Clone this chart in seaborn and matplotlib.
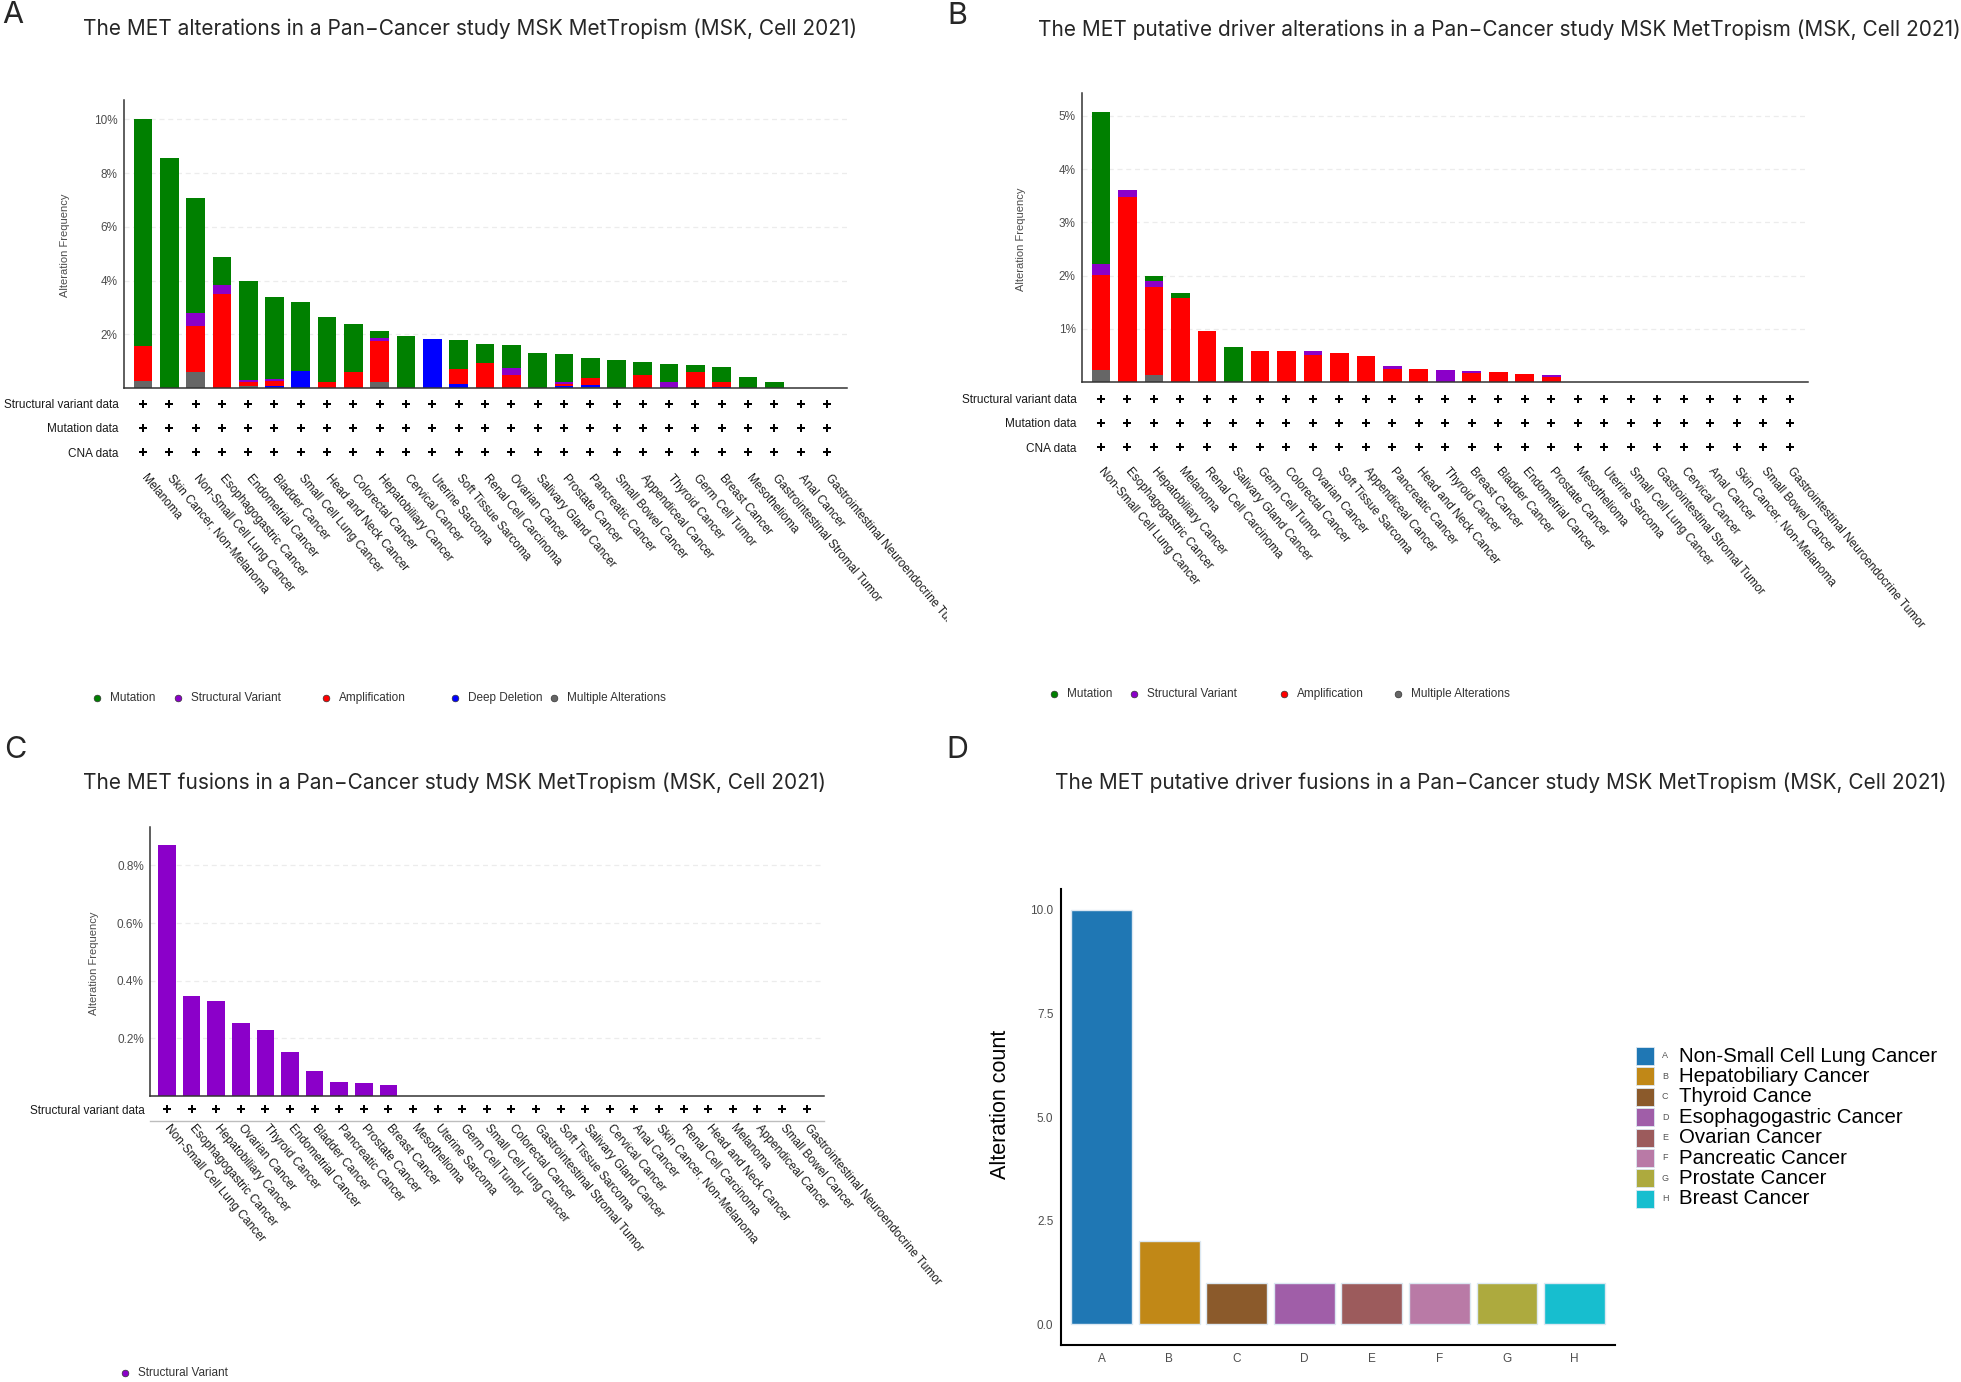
import numpy as np
import pandas as pd
import matplotlib
matplotlib.use("Agg")
import matplotlib.pyplot as plt
from matplotlib.lines import Line2D
from matplotlib.patches import Rectangle
from matplotlib.transforms import Bbox, TransformedBbox
import seaborn as sns

# ---------------- data ----------------
# alteration types, bottom -> top of each stacked bar
alt_types = ["Multiple Alterations", "Deep Deletion", "Amplification", "Structural Variant", "Mutation"]
alt_colors = ["#666666", "#0000FF", "#FF0000", "#8B00C9", "#008000"]

# Panel A: MET alterations (%)
a_cats = ["Melanoma", "Skin Cancer, Non-Melanoma", "Non-Small Cell Lung Cancer", "Esophagogastric Cancer",
          "Endometrial Cancer", "Bladder Cancer", "Small Cell Lung Cancer", "Head and Neck Cancer",
          "Colorectal Cancer", "Hepatobiliary Cancer", "Cervical Cancer", "Uterine Sarcoma",
          "Soft Tissue Sarcoma", "Renal Cell Carcinoma", "Ovarian Cancer", "Salivary Gland Cancer",
          "Prostate Cancer", "Pancreatic Cancer", "Small Bowel Cancer", "Appendiceal Cancer",
          "Thyroid Cancer", "Germ Cell Tumor", "Breast Cancer", "Mesothelioma",
          "Gastrointestinal Stromal Tumor", "Anal Cancer", "Gastrointestinal Neuroendocrine Tumor"]
a_multiple = [0.25, 0, 0.58, 0, 0.07, 0, 0, 0, 0, 0.21, 0, 0, 0, 0, 0, 0, 0, 0.05, 0, 0, 0, 0, 0, 0, 0, 0, 0]
a_deldel = [0, 0, 0, 0, 0, 0.07, 0.62, 0, 0, 0, 0, 1.84, 0.16, 0, 0, 0, 0.07, 0.05, 0, 0, 0, 0, 0.05, 0, 0, 0, 0]
a_amp = [1.30, 0, 1.73, 3.49, 0.14, 0.19, 0, 0.22, 0.60, 1.54, 0, 0, 0.56, 0.94, 0.50, 0, 0.07, 0.26, 0, 0.50,
         0, 0.60, 0.16, 0, 0, 0, 0]
a_sv = [0, 0, 0.48, 0.36, 0.08, 0.07, 0, 0, 0, 0.12, 0, 0, 0, 0, 0.24, 0, 0.07, 0, 0, 0, 0.22, 0, 0, 0, 0, 0, 0]
a_mut = [8.45, 8.55, 4.28, 1.03, 3.68, 3.06, 2.57, 2.44, 1.79, 0.24, 1.94, 0, 1.07, 0.71, 0.85, 1.30, 1.06,
         0.77, 1.04, 0.47, 0.69, 0.27, 0.58, 0.40, 0.22, 0, 0]

# Panel B: MET putative driver alterations (%)
b_cats = ["Non-Small Cell Lung Cancer", "Esophagogastric Cancer", "Hepatobiliary Cancer", "Melanoma",
          "Renal Cell Carcinoma", "Salivary Gland Cancer", "Germ Cell Tumor", "Colorectal Cancer",
          "Ovarian Cancer", "Soft Tissue Sarcoma", "Appendiceal Cancer", "Pancreatic Cancer",
          "Head and Neck Cancer", "Thyroid Cancer", "Breast Cancer", "Bladder Cancer", "Endometrial Cancer",
          "Prostate Cancer", "Mesothelioma", "Uterine Sarcoma", "Small Cell Lung Cancer",
          "Gastrointestinal Stromal Tumor", "Cervical Cancer", "Anal Cancer", "Skin Cancer, Non-Melanoma",
          "Small Bowel Cancer", "Gastrointestinal Neuroendocrine Tumor"]
b_multiple = [0.23, 0, 0.125, 0, 0, 0, 0, 0, 0, 0, 0, 0, 0, 0, 0, 0, 0, 0, 0, 0, 0, 0, 0, 0, 0, 0, 0]
b_deldel = [0] * 27
b_amp = [1.78, 3.48, 1.655, 1.575, 0.95, 0, 0.59, 0.59, 0.51, 0.54, 0.49, 0.25, 0.24, 0, 0.16, 0.18, 0.15,
         0.09, 0, 0, 0, 0, 0, 0, 0, 0, 0]
b_sv = [0.21, 0.12, 0.11, 0, 0, 0, 0, 0, 0.08, 0, 0, 0.05, 0, 0.23, 0.04, 0, 0, 0.04, 0, 0, 0, 0, 0, 0, 0, 0, 0]
b_mut = [2.85, 0, 0.11, 0.095, 0, 0.66, 0, 0, 0, 0, 0, 0, 0, 0, 0, 0, 0, 0, 0, 0, 0, 0, 0, 0, 0, 0, 0]

# Panel C: MET fusions (%)
c_cats = ["Non-Small Cell Lung Cancer", "Esophagogastric Cancer", "Hepatobiliary Cancer", "Ovarian Cancer",
          "Thyroid Cancer", "Endometrial Cancer", "Bladder Cancer", "Pancreatic Cancer", "Prostate Cancer",
          "Breast Cancer", "Mesothelioma", "Uterine Sarcoma", "Germ Cell Tumor", "Small Cell Lung Cancer",
          "Colorectal Cancer", "Gastrointestinal Stromal Tumor", "Soft Tissue Sarcoma", "Salivary Gland Cancer",
          "Cervical Cancer", "Anal Cancer", "Skin Cancer, Non-Melanoma", "Renal Cell Carcinoma",
          "Head and Neck Cancer", "Melanoma", "Appendiceal Cancer", "Small Bowel Cancer",
          "Gastrointestinal Neuroendocrine Tumor"]
c_sv = [0.871, 0.346, 0.331, 0.254, 0.228, 0.151, 0.087, 0.050, 0.044, 0.038] + [0] * 17

# Panel D: putative driver fusions (counts)
d_letters = ["A", "B", "C", "D", "E", "F", "G", "H"]
d_names = ["Non-Small Cell Lung Cancer", "Hepatobiliary Cancer", "Thyroid Cance", "Esophagogastric Cancer",
           "Ovarian Cancer", "Pancreatic Cancer", "Prostate Cancer", "Breast Cancer"]
d_counts = [10, 2, 1, 1, 1, 1, 1, 1]
d_colors = ["#1F77B4", "#C18817", "#8B5A2B", "#A05EA8", "#9C5B5C", "#B97AA6", "#ADAA3E", "#17BECF"]

rows_abc = ["Structural variant data", "Mutation data", "CNA data"]
titles = ["The MET alterations in a Pan\u2212Cancer study MSK MetTropism (MSK, Cell 2021)",
          "The MET putative driver alterations in a Pan\u2212Cancer study MSK MetTropism (MSK, Cell 2021)",
          "The MET fusions in a Pan\u2212Cancer study MSK MetTropism (MSK, Cell 2021)",
          "The MET putative driver fusions in a Pan\u2212Cancer study MSK MetTropism (MSK, Cell 2021)"]

# ---------------- style ----------------
sns.set_theme(style="white")
plt.rcParams['font.family'] = ['Liberation Sans', 'DejaVu Sans']
TITLE_FONT = ['Inter', 'DejaVu Sans']
GREY = "#4d4d4d"

W, H = 1961, 1382
fig = plt.figure(figsize=(W / 100, H / 100), dpi=100)


def rect(l, t, r, b):
    return [l / W, 1 - b / H, (r - l) / W, (b - t) / H]


def fx(x):
    return x / W


def fy(y):
    return 1 - y / H


def stacked_bars(ax, cats, segments, colors, width):
    # overlay cumulative sums, tallest first, so they look stacked
    cum = np.cumsum(np.vstack(segments), axis=0)
    for lvl in range(len(segments) - 1, -1, -1):
        sns.barplot(x=cats, y=cum[lvl], order=cats, color=colors[lvl], saturation=1,
                    width=width, linewidth=0, errorbar=None, ax=ax)


def style_bar_axes(ax, xlim, ylim, ticks, labels):
    ax.set_xlim(*xlim)
    ax.set_ylim(*ylim)
    ax.set_xticks([])
    ax.set_xlabel("")
    ax.set_yticks(ticks)
    ax.set_yticklabels(labels)
    ax.tick_params(axis='y', length=2.5, width=0.8, color="#333333", pad=2, labelsize=8.5, labelcolor=GREY)
    for s in ["top", "right"]:
        ax.spines[s].set_visible(False)
    for s in ["left", "bottom"]:
        ax.spines[s].set_color("#333333")
        ax.spines[s].set_linewidth(1.1)
    ax.yaxis.grid(True, color="#ececec", linestyle=(0, (4, 3)), linewidth=0.9)
    ax.set_axisbelow(True)


def data_rows(ax, cats, rows, xlim, pad, angle=-50, clip_right=None):
    n = len(cats)
    df = pd.DataFrame({"pos": np.tile(np.arange(n), len(rows)),
                       "row": np.repeat(np.arange(len(rows)), n)})
    sns.scatterplot(data=df, x="pos", y="row", marker="P", s=34, color="black", linewidth=0,
                    legend=False, ax=ax)
    ax.set_xlim(*xlim)
    ax.set_ylim(len(rows) - 0.5, -0.5)
    ax.set_xlabel("")
    ax.set_ylabel("")
    ax.set_yticks(range(len(rows)))
    ax.set_yticklabels(rows)
    ax.set_xticks(range(n))
    ax.set_xticklabels(cats, rotation=angle, ha="left", va="center", rotation_mode="anchor")
    ax.tick_params(axis="y", length=0, pad=4, labelsize=8.5, labelcolor="#1a1a1a")
    ax.tick_params(axis="x", length=0, pad=pad, labelsize=8.5, labelcolor="#1a1a1a")
    for s in ax.spines.values():
        s.set_visible(False)
    ax.set_facecolor("none")
    if clip_right is not None:
        box = TransformedBbox(Bbox.from_extents(0, 0, fx(clip_right), 1), fig.transFigure)
        for lab in ax.get_xticklabels():
            lab.set_clip_on(True)
            lab.set_clip_box(box)


def dot_legend(items, y):
    for label, color, xd in items:
        fig.add_artist(Line2D([fx(xd)], [fy(y)], marker="o", markersize=4.8, markerfacecolor=color,
                              markeredgecolor="#333333", markeredgewidth=0.5, linestyle="none",
                              transform=fig.transFigure))
        fig.text(fx(xd + 13), fy(y), label, ha="left", va="center", fontsize=8.5, color="#333333")


# ---------------- Panel A ----------------
ax_a = fig.add_axes(rect(124, 100, 847, 388))
stacked_bars(ax_a, a_cats, [a_multiple, a_deldel, a_amp, a_sv, a_mut], alt_colors, 0.71)
style_bar_axes(ax_a, (-0.72, 26.76), (0, 10.72), [2, 4, 6, 8, 10], ["2%", "4%", "6%", "8%", "10%"])
ax_a.set_ylabel("Alteration Frequency", fontsize=8, color=GREY)
ax_a.yaxis.set_label_coords(fx(70), fy(245), transform=fig.transFigure)
ax_ar = fig.add_axes(rect(124, 392, 847, 464))
data_rows(ax_ar, a_cats, rows_abc, (-0.72, 26.76), pad=8.5, clip_right=947)
dot_legend([(alt_types[4], alt_colors[4], 97), (alt_types[3], alt_colors[3], 178),
            (alt_types[2], alt_colors[2], 326), (alt_types[1], alt_colors[1], 455),
            (alt_types[0], alt_colors[0], 554)], 698)

# ---------------- Panel B ----------------
ax_b = fig.add_axes(rect(1082, 93, 1808, 382))
stacked_bars(ax_b, b_cats, [b_multiple, b_deldel, b_amp, b_sv, b_mut], alt_colors, 0.70)
style_bar_axes(ax_b, (-0.71, 26.69), (0, 5.43), [1, 2, 3, 4, 5], ["1%", "2%", "3%", "4%", "5%"])
ax_b.set_ylabel("Alteration Frequency", fontsize=8, color=GREY)
ax_b.yaxis.set_label_coords(fx(1026), fy(239), transform=fig.transFigure)
ax_br = fig.add_axes(rect(1082, 387, 1808, 459))
data_rows(ax_br, b_cats, rows_abc, (-0.71, 26.69), pad=7)
dot_legend([(alt_types[4], alt_colors[4], 1054), (alt_types[3], alt_colors[3], 1134),
            (alt_types[2], alt_colors[2], 1284), (alt_types[0], alt_colors[0], 1398)], 694)

# ---------------- Panel C ----------------
ax_c = fig.add_axes(rect(150, 827, 824, 1096))
sns.barplot(x=c_cats, y=c_sv, order=c_cats, color=alt_colors[3], saturation=1, width=0.72,
            linewidth=0, errorbar=None, ax=ax_c)
style_bar_axes(ax_c, (-0.69, 26.71), (0, 0.933), [0.2, 0.4, 0.6, 0.8], ["0.2%", "0.4%", "0.6%", "0.8%"])
ax_c.set_ylabel("Alteration Frequency", fontsize=8, color=GREY)
ax_c.yaxis.set_label_coords(fx(99), fy(963), transform=fig.transFigure)
ax_cr = fig.add_axes(rect(150, 1097, 824, 1121))
data_rows(ax_cr, c_cats, rows_abc[:1], (-0.69, 26.71), pad=4)
ax_cr.spines["bottom"].set_visible(True)
ax_cr.spines["bottom"].set_color("#bdbdbd")
ax_cr.spines["bottom"].set_linewidth(1)
dot_legend([(alt_types[3], alt_colors[3], 125)], 1373)

# ---------------- Panel D ----------------
ax_d = fig.add_axes(rect(1061, 889, 1615, 1345))
sns.barplot(x=d_letters, y=d_counts, hue=d_letters, palette=d_colors, legend=False, saturation=1,
            width=0.9, edgecolor="#dce8f2", linewidth=1.0, errorbar=None, ax=ax_d)
ax_d.set_xlim(-0.6, 7.6)
ax_d.set_ylim(-0.5, 10.5)
ax_d.set_yticks([0, 2.5, 5, 7.5, 10])
ax_d.set_yticklabels(["0.0", "2.5", "5.0", "7.5", "10.0"])
ax_d.set_xlabel("")
ax_d.set_ylabel("Alteration count", fontsize=15.5, color="black")
ax_d.yaxis.set_label_coords(fx(1011), fy(1104), transform=fig.transFigure)
ax_d.tick_params(axis="both", length=3.5, width=1, color="#333333", pad=2, labelsize=8.5, labelcolor=GREY)
for s in ["top", "right"]:
    ax_d.spines[s].set_visible(False)
for s in ["left", "bottom"]:
    ax_d.spines[s].set_color("black")
    ax_d.spines[s].set_linewidth(1.5)

# legend for D
for i, (let, name, col) in enumerate(zip(d_letters, d_names, d_colors)):
    yc = 1056 + i * 20.4
    fig.add_artist(Rectangle((fx(1636), fy(yc + 9)), 18 / W, 18 / H, facecolor=col,
                             edgecolor="#dce8f2", linewidth=0.6, transform=fig.transFigure))
    fig.text(fx(1662), fy(yc), let, ha="left", va="center", fontsize=6.5, color="#555555")
    fig.text(fx(1679), fy(yc), name, ha="left", va="center", fontsize=14.7, color="black")

# ---------------- titles and panel letters ----------------
fig.text(fx(83), fy(29), titles[0], ha="left", va="center", fontsize=15, family=TITLE_FONT)
fig.text(fx(1038), fy(30), titles[1], ha="left", va="center", fontsize=15, family=TITLE_FONT)
fig.text(fx(83), fy(783), titles[2], ha="left", va="center", fontsize=15, family=TITLE_FONT)
fig.text(fx(1055), fy(783), titles[3], ha="left", va="center", fontsize=15, family=TITLE_FONT)
for let, (x, y) in zip(["A", "B", "C", "D"], [(13, 15), (957, 16), (15, 750), (957, 750)]):
    fig.text(fx(x), fy(y), let, ha="center", va="center", fontsize=22, family=TITLE_FONT)

fig.savefig("out.png", dpi=100, facecolor="white")
